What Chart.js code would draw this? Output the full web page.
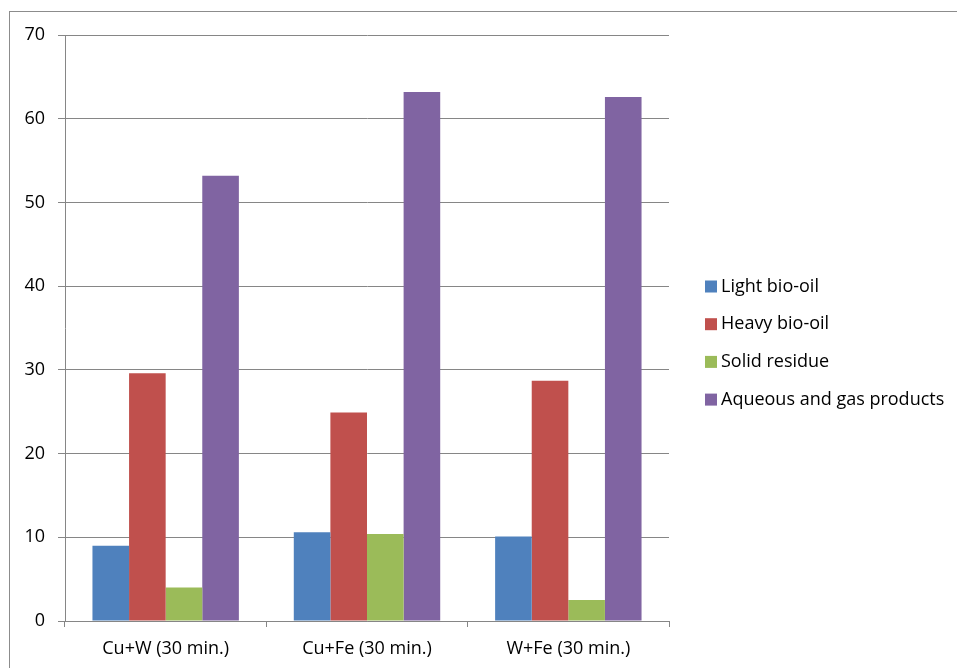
<!DOCTYPE html>
<html>
<head>
<meta charset="utf-8">
<script src="https://cdn.jsdelivr.net/npm/chart.js@4.4.1/dist/chart.umd.min.js"></script>
<style>
  html, body { margin: 0; padding: 0; background: #ffffff; }
  #wrap { position: relative; width: 957px; height: 668px; }
</style>
</head>
<body>
<div id="wrap"><canvas id="c" width="957" height="668"></canvas></div>
<script>
// Product distribution for each catalyst pair
const categories = ['Cu+W (30 min.)', 'Cu+Fe (30 min.)', 'W+Fe (30 min.)'];
const lightBioOil = [9.0, 10.6, 10.1];
const heavyBioOil = [29.6, 24.9, 28.7];
const solidResidue = [4.0, 10.4, 2.5];
const aqueousGas = [53.2, 63.2, 62.6];
const yTicks = [0, 10, 20, 30, 40, 50, 60, 70];

const FONT_FAMILY = '"Open Sans", sans-serif';
const FONT_SIZE = 18;
const GRID = '#868686';

// thin frame around the whole figure
const frame = {
  id: 'frame',
  beforeDraw(chart) {
    const ctx = chart.ctx;
    ctx.save();
    ctx.fillStyle = '#ffffff';
    ctx.fillRect(0, 0, chart.width, chart.height);
    ctx.strokeStyle = '#8c8c8c';
    ctx.lineWidth = 1;
    ctx.strokeRect(9.5, 11.5, 1200, 1200);
    ctx.restore();
  }
};

// legend column to the right of the plot
const sideLegend = {
  id: 'sideLegend',
  afterDraw(chart) {
    const ctx = chart.ctx;
    const x = chart.chartArea.right + 36;
    const y0 = 286.5;
    const step = 37.7;
    ctx.save();
    ctx.font = FONT_SIZE + 'px ' + FONT_FAMILY;
    ctx.textBaseline = 'middle';
    ctx.textAlign = 'left';
    chart.data.datasets.forEach((ds, i) => {
      const y = y0 + i * step;
      ctx.fillStyle = ds.backgroundColor;
      ctx.fillRect(x, y - 6, 12, 12);
      ctx.fillStyle = '#000000';
      ctx.fillText(ds.label, x + 16, y);
    });
    ctx.restore();
  }
};

new Chart(document.getElementById('c'), {
  type: 'bar',
  data: {
    labels: categories,
    datasets: [
      { label: 'Light bio-oil', data: lightBioOil, backgroundColor: '#4F81BD' },
      { label: 'Heavy bio-oil', data: heavyBioOil, backgroundColor: '#C0504D' },
      { label: 'Solid residue', data: solidResidue, backgroundColor: '#9BBB59' },
      { label: 'Aqueous and gas products', data: aqueousGas, backgroundColor: '#8064A2' }
    ]
  },
  options: {
    responsive: false,
    animation: false,
    devicePixelRatio: 1,
    layout: { padding: { top: 35, left: 0, right: 288, bottom: 0 } },
    datasets: {
      bar: {
        categoryPercentage: 4 / 5.5,
        barPercentage: 1,
        borderWidth: 0
      }
    },
    plugins: {
      tooltip: { enabled: false },
      legend: { display: false }
    },
    scales: {
      x: {
        grid: {
          display: true,
          drawOnChartArea: false,
          offset: true,
          color: GRID,
          tickLength: 6,
          lineWidth: 1
        },
        border: { color: GRID, width: 1 },
        ticks: {
          color: '#000000',
          padding: 11,
          font: { family: FONT_FAMILY, size: FONT_SIZE },
          maxRotation: 0
        },
        afterFit(s) { s.height = 47; }
      },
      y: {
        min: 0,
        max: 70,
        afterBuildTicks(s) { s.ticks = yTicks.map(v => ({ value: v })); },
        grid: {
          color: GRID,
          tickLength: 7,
          lineWidth: 1
        },
        border: { color: GRID, width: 1 },
        ticks: {
          color: '#000000',
          padding: 13,
          font: { family: FONT_FAMILY, size: FONT_SIZE }
        },
        afterFit(s) { s.width = 65; }
      }
    }
  },
  plugins: [frame, sideLegend]
});
</script>
</body>
</html>
